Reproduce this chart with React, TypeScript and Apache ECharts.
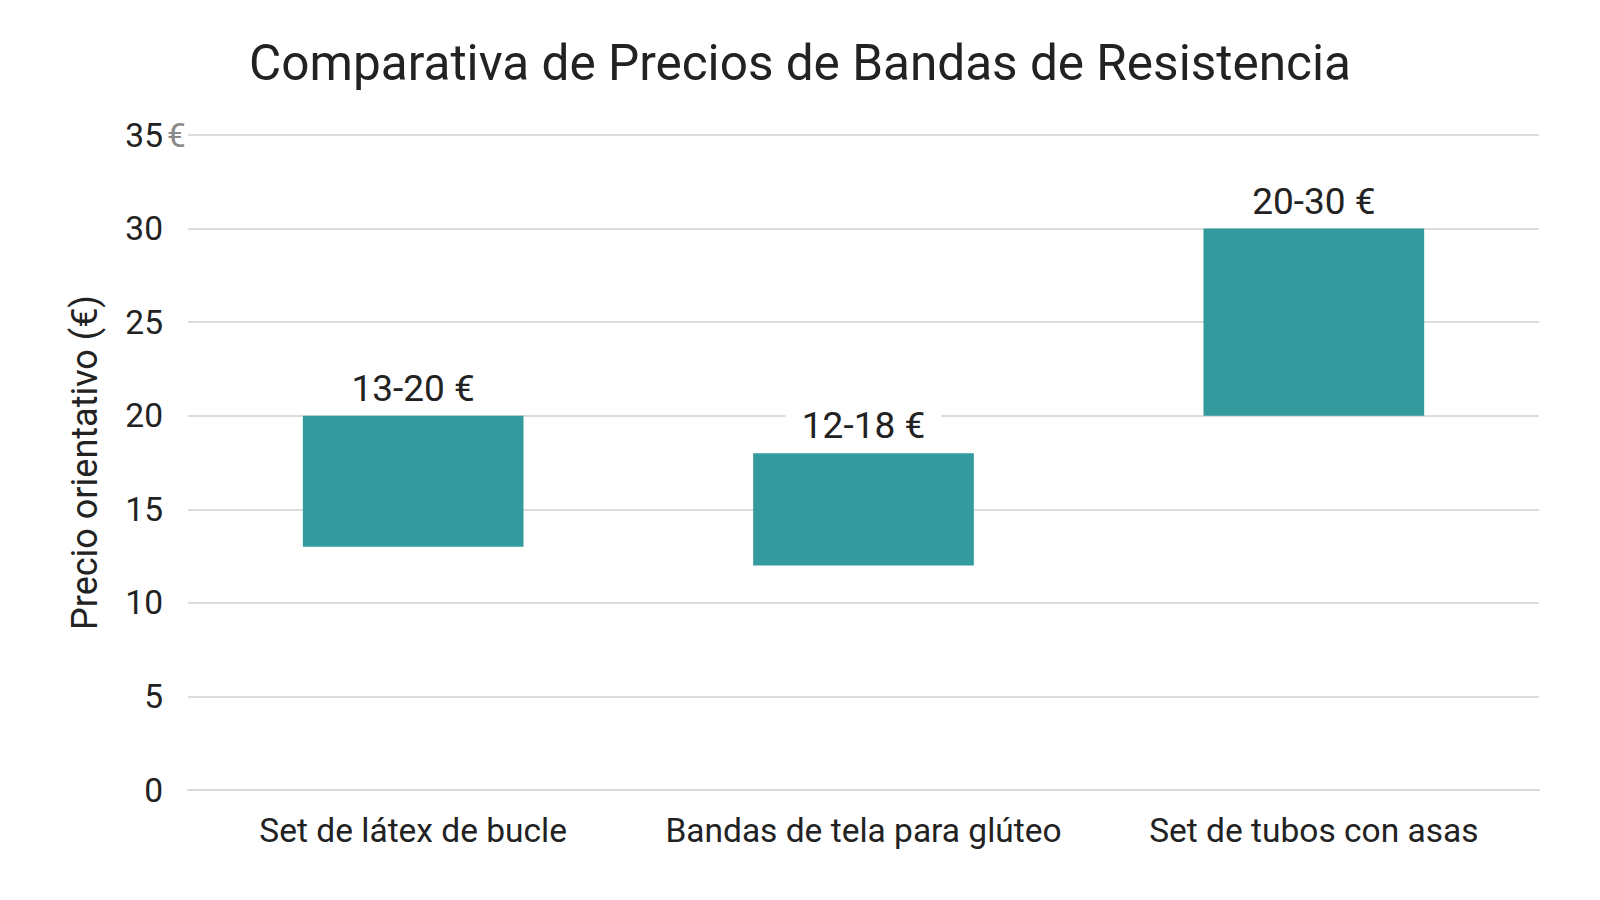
import React, { useEffect, useRef } from 'react';
import * as echarts from 'echarts';

const categories = ['Set de látex de bucle', 'Bandas de tela para glúteo', 'Set de tubos con asas'];
const minPrices = [13, 12, 20];
const maxPrices = [20, 18, 30];
const yTicks = [0, 5, 10, 15, 20, 25, 30, 35];

const FONT = 'Roboto, "Noto Sans", sans-serif';
const TEAL = '#339b9e';

const App: React.FC = () => {
  const chartRef = useRef<HTMLDivElement | null>(null);

  useEffect(() => {
    if (!chartRef.current) return;
    const chart = echarts.init(chartRef.current, null, { renderer: 'svg' });

    const option: echarts.EChartsOption = {
      animation: false,
      textStyle: { fontFamily: FONT },
      title: {
        text: 'Comparativa de Precios de Bandas de Resistencia',
        left: 'center',
        top: 25,
        textStyle: { fontSize: 49.5, fontWeight: 'normal', color: '#222', fontFamily: FONT },
      },
      grid: { left: 180, right: 53, top: 127, bottom: 102, containLabel: false },
      xAxis: {
        type: 'category',
        data: categories,
        axisLine: { lineStyle: { color: '#d9d9d9', width: 2 } },
        axisTick: { show: false },
        axisLabel: { fontSize: 33.5, color: '#222', margin: 23, interval: 0, fontFamily: FONT },
      },
      yAxis: {
        type: 'value',
        min: yTicks[0],
        max: yTicks[yTicks.length - 1],
        interval: 5,
        name: 'Precio orientativo (€)',
        nameLocation: 'middle',
        nameGap: 85,
        nameTextStyle: { fontSize: 36, color: '#222', fontFamily: FONT },
        axisLine: { show: false },
        axisTick: { show: false },
        splitLine: { lineStyle: { color: '#dcdcdc', width: 2 } },
        axisLabel: { fontSize: 33.5, color: '#222', margin: 25, fontFamily: FONT },
      },
      graphic: [
        {
          type: 'text',
          left: 159,
          top: 110,
          style: { text: '€', fontSize: 33.5, fill: '#8a8a8a', fontFamily: FONT },
        },
      ],
      series: [
        {
          name: 'base',
          type: 'bar',
          stack: 'range',
          data: minPrices,
          barWidth: '49%',
          itemStyle: { color: 'transparent' },
          silent: true,
        },
        {
          name: 'Rango de precio',
          type: 'bar',
          stack: 'range',
          data: maxPrices.map((v, i) => v - minPrices[i]),
          barWidth: '49%',
          itemStyle: { color: TEAL },
          label: {
            show: true,
            position: 'top',
            distance: 9,
            formatter: (p: any) => `${minPrices[p.dataIndex]}-${maxPrices[p.dataIndex]} €`,
            fontSize: 37,
            color: '#222',
            fontFamily: FONT,
            backgroundColor: '#fff',
            padding: [0, 16],
          },
        },
      ],
    };

    chart.setOption(option);
    return () => {
      chart.dispose();
    };
  }, []);

  return <div ref={chartRef} style={{ width: '1584px', height: '884px' }} />;
};

export default App;
